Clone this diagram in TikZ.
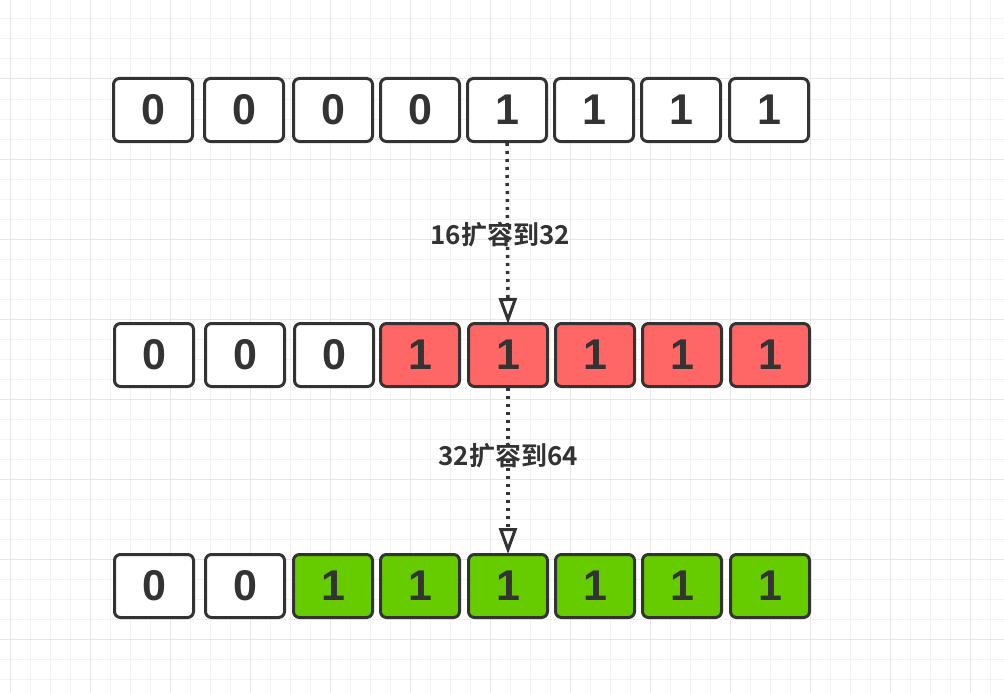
\documentclass[tikz,border=0pt]{standalone}
\usepackage{fontspec}
\setmainfont{Liberation Sans}
\newfontfamily\cjk{Noto Sans CJK SC}[BoldFont={Noto Sans CJK SC Bold}]
\usetikzlibrary{arrows.meta}
\definecolor{ink}{HTML}{333333}
\definecolor{redfill}{HTML}{FF6666}
\definecolor{greenfill}{HTML}{66CC00}
\definecolor{gridminor}{HTML}{F2F2F2}
\definecolor{gridmajor}{HTML}{E6E6E6}
\tikzset{
  cell/.style={draw=ink, line width=3pt, rounded corners=6pt, fill=white,
    minimum width=79pt, minimum height=63pt, inner sep=0pt,
    text=ink, font=\fontsize{43}{43}\selectfont\bfseries},
  redcell/.style={cell, fill=redfill},
  greencell/.style={cell, fill=greenfill},
  flowlabel/.style={text=ink, inner sep=0pt, font=\cjk\fontsize{26}{26}\selectfont\bfseries},
  dotline/.style={draw=ink, line width=3.5pt, dash pattern=on 3pt off 5pt,
    -{Triangle[open, width=18pt, length=26pt, line width=3pt]}}
}
\begin{document}
\begin{tikzpicture}[x=1pt,y=-1pt]
\useasboundingbox (0,0) rectangle (1004,693);
\fill[white] (0,0) rectangle (1004,693);
% grid
\foreach \gx in {10,30,...,1000} \draw[gridminor, line width=1pt] (\gx,0) -- (\gx,693);
\foreach \gy in {19,39,...,693} \draw[gridminor, line width=1pt] (0,\gy) -- (1004,\gy);
\foreach \gx in {10,90,...,1000} \draw[gridmajor, line width=1pt] (\gx,0) -- (\gx,693);
\foreach \gy in {79,159,...,693} \draw[gridmajor, line width=1pt] (0,\gy) -- (1004,\gy);
% top row
\node[cell] (t1) at (153,110) {0};
\node[cell] (t2) at (244,110) {0};
\node[cell] (t3) at (333,110) {0};
\node[cell] (t4) at (420,110) {0};
\node[cell] (t5) at (507,110) {1};
\node[cell] (t6) at (594,110) {1};
\node[cell] (t7) at (681,110) {1};
\node[cell] (t8) at (769,110) {1};
% middle row
\node[cell] (m1) at (154,355) {0};
\node[cell] (m2) at (245,355) {0};
\node[cell] (m3) at (334,355) {0};
\node[redcell] (m4) at (420,355) {1};
\node[redcell] (m5) at (508,355) {1};
\node[redcell] (m6) at (595,355) {1};
\node[redcell] (m7) at (682,355) {1};
\node[redcell] (m8) at (770,355) {1};
% bottom row
\node[cell] (b1) at (154,586) {0};
\node[cell] (b2) at (245,586) {0};
\node[greencell] (b3) at (333,586) {1};
\node[greencell] (b4) at (420,586) {1};
\node[greencell] (b5) at (508,586) {1};
\node[greencell] (b6) at (595,586) {1};
\node[greencell] (b7) at (682,586) {1};
\node[greencell] (b8) at (770,586) {1};
% arrows
\draw[dotline] (t5.south) -- ([yshift=-2pt]m5.north);
\draw[dotline] (m5.south) -- ([yshift=-1pt]b5.north);
% labels
\node[flowlabel] (l1) at (500,235) {16扩容到32};
\node[flowlabel] (l2) at (508,456) {32扩容到64};
\end{tikzpicture}
\end{document}
